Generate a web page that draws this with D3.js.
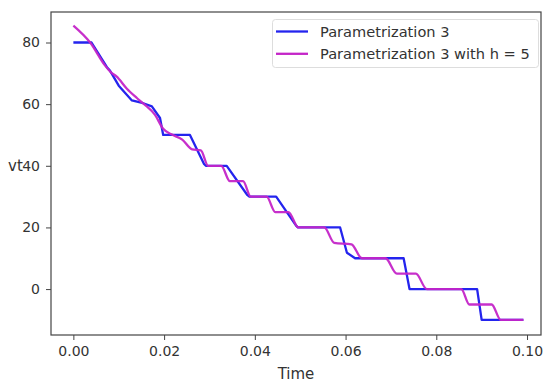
<!DOCTYPE html>
<html>
<head>
<meta charset="utf-8">
<script src="https://cdn.jsdelivr.net/npm/d3@7"></script>
<style>
  html, body { margin: 0; padding: 0; background: #fff; }
  svg { display: block; }
  text { font-family: "DejaVu Sans", sans-serif; fill: #333; }
</style>
</head>
<body>
<svg id="chart" width="543" height="383"></svg>
<script>
// ---- data ----
const blueTime  = [0, 0.004, 0.0074, 0.0081, 0.0100, 0.0129, 0.0154, 0.0173, 0.0191, 0.0198, 0.0257, 0.0288, 0.0292, 0.0338, 0.0383, 0.0388, 0.0447, 0.0491, 0.0495, 0.0588, 0.0603, 0.0621, 0.0728, 0.0741, 0.0890, 0.0900, 0.0992];
const blueValue = [80, 80, 72, 70.8, 66, 61.2, 60.3, 59.3, 55.5, 50, 50, 40.6, 40, 40, 30.6, 30, 30, 20.6, 20, 20, 11.8, 10, 10, 0, 0, -10, -10];

const magTime  = [0, 0.0037, 0.0070, 0.0083, 0.0095, 0.0118, 0.0140, 0.0156, 0.0180, 0.0198, 0.0215, 0.0240, 0.0262, 0.0281, 0.0297, 0.0326, 0.0345, 0.0374, 0.0391, 0.0426, 0.0445, 0.0474, 0.0496, 0.0553, 0.0575, 0.0613, 0.0636, 0.0688, 0.0713, 0.0755, 0.0779, 0.0855, 0.0873, 0.0922, 0.0942, 0.0992];
const magValue = [85.5, 80, 72.5, 70.3, 69, 65, 62, 60, 56.5, 52, 50.3, 48.5, 45.3, 45, 40, 40, 35, 35, 30, 30, 25, 25, 20, 20, 15, 14.5, 10, 10, 5, 5, 0, 0, -5, -5, -10, -10];

const xTicks = [0, 0.02, 0.04, 0.06, 0.08, 0.10];
const yTicks = [0, 20, 40, 60, 80];
const seriesNames = ["Parametrization 3", "Parametrization 3 with h = 5"];
const seriesColors = ["#2424ee", "#c425c8"];

// ---- layout ----
const svg = d3.select("#chart");
const L = 51, R = 541, T = 12, B = 335;

const x = d3.scaleLinear().domain([-0.00493, 0.10308]).range([L, R]);
const y = d3.scaleLinear().domain([-14.9, 89.9]).range([B, T]);

const fmtX = d3.format(".2f");

// axes
const xAxis = svg.append("g").attr("transform", `translate(0,${B})`)
  .call(d3.axisBottom(x).tickValues(xTicks).tickFormat(fmtX).tickSize(5).tickPadding(6).tickSizeOuter(0));
const yAxis = svg.append("g").attr("transform", `translate(${L},0)`)
  .call(d3.axisLeft(y).tickValues(yTicks).tickSize(5).tickPadding(6).tickSizeOuter(0));
[xAxis, yAxis].forEach(a => {
  a.select(".domain").remove();
  a.selectAll("line").attr("stroke", "#444").attr("stroke-width", 1);
  a.selectAll("text").style("font-family", "DejaVu Sans, sans-serif").style("font-size", "14px").attr("fill", "#333");
});

// lines
const blueData = blueTime.map((t, i) => [t, blueValue[i]]);
const magData = magTime.map((t, i) => [t, magValue[i]]);

const lineLin = d3.line().x(d => x(d[0])).y(d => y(d[1])).curve(d3.curveLinear);
const lineSmooth = d3.line().x(d => x(d[0])).y(d => y(d[1])).curve(d3.curveMonotoneX);

svg.append("path").datum(blueData).attr("d", lineLin)
  .attr("fill", "none").attr("stroke", seriesColors[0]).attr("stroke-width", 2.3).attr("stroke-linejoin", "round");
svg.append("path").datum(magData).attr("d", lineSmooth)
  .attr("fill", "none").attr("stroke", seriesColors[1]).attr("stroke-width", 2.3).attr("stroke-linejoin", "round").attr("opacity", 0.95);

// frame
svg.append("rect").attr("x", L).attr("y", T).attr("width", R - L).attr("height", B - T)
  .attr("fill", "none").attr("stroke", "#444").attr("stroke-width", 1.2);

// labels
svg.append("text").attr("x", (L + R) / 2).attr("y", 379).attr("text-anchor", "middle")
  .style("font-size", "15px").text("Time");
svg.append("text").attr("x", 8).attr("y", 171).attr("text-anchor", "start")
  .style("font-size", "15px").text("vt");

// legend
const lg = svg.append("g");
lg.append("rect").attr("x", 272.5).attr("y", 19.5).attr("width", 266).attr("height", 48).attr("rx", 3)
  .attr("fill", "#fff").attr("fill-opacity", 0.8).attr("stroke", "#ddd").attr("stroke-width", 1);
seriesNames.forEach((name, i) => {
  const yy = 31.5 + i * 22.3;
  lg.append("line").attr("x1", 276).attr("x2", 308).attr("y1", yy).attr("y2", yy)
    .attr("stroke", seriesColors[i]).attr("stroke-width", 2.3);
  lg.append("text").attr("x", 320).attr("y", yy + 5).style("font-size", "14.6px").text(name);
});
</script>
</body>
</html>
